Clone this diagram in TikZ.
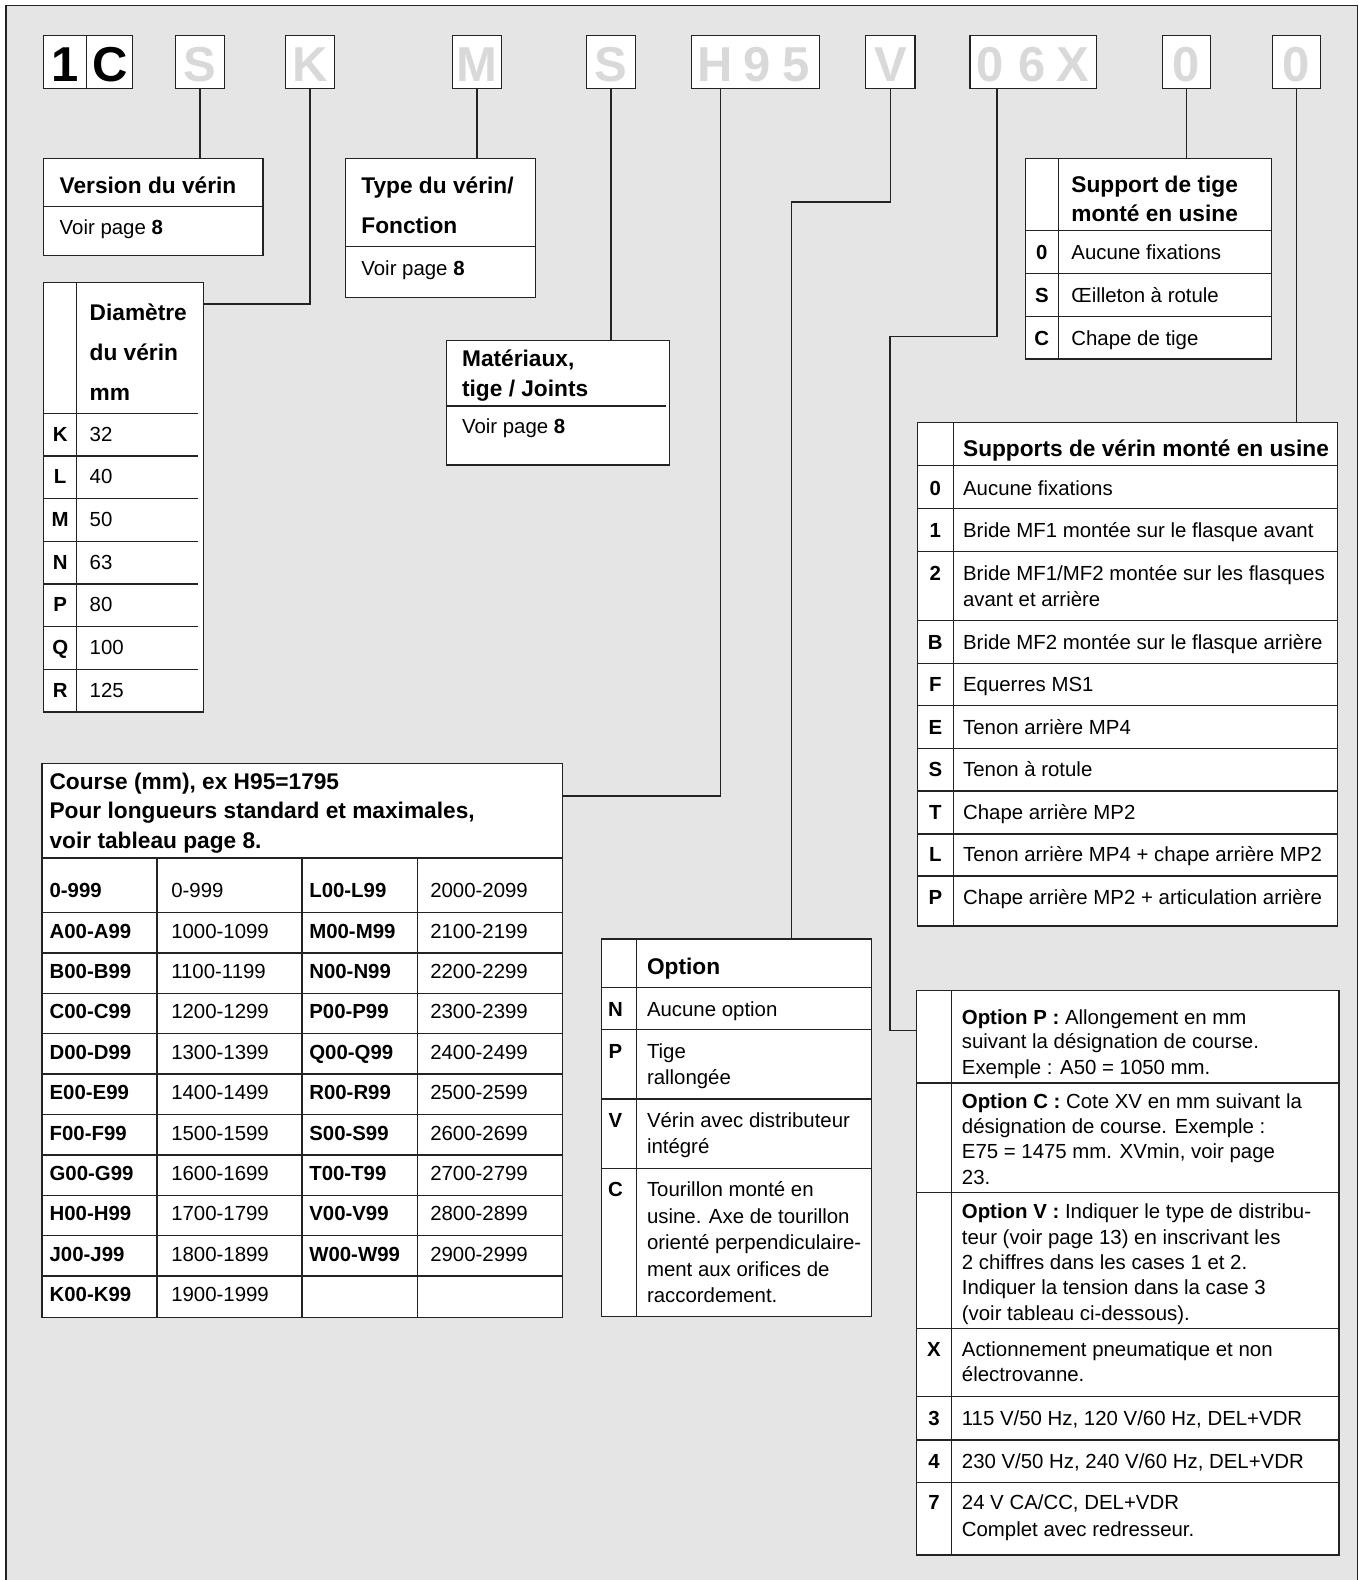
\documentclass[tikz,border=0pt]{standalone}
\usepackage{fontspec}
\setmainfont{Liberation Sans}
\usetikzlibrary{fit}
\definecolor{bggray}{RGB}{229,229,229}
\definecolor{codegray}{RGB}{217,217,217}
\definecolor{linecol}{RGB}{35,35,35}
\newcommand\bodyfs{\fontsize{10.2}{12}\selectfont}
\newcommand\headfs{\fontsize{11.35}{13}\selectfont\bfseries}
\newcommand\codefs{\fontsize{24.5}{26}\selectfont\bfseries}
\tikzset{
 tbox/.style={draw=linecol, fill=white, line width=0.75pt, inner sep=0pt},
 tline/.style={draw=linecol, line width=0.75pt},
 btxt/.style={anchor=base west, inner sep=0pt, font=\bodyfs},
 bbtxt/.style={anchor=base west, inner sep=0pt, font=\bodyfs\bfseries},
 htxt/.style={anchor=base west, inner sep=0pt, font=\headfs},
 ctxt/.style={anchor=base, inner sep=0pt, font=\bodyfs\bfseries},
 codebox/.style={draw=linecol, fill=white, line width=0.75pt, inner sep=0pt},
 codetxt/.style={anchor=base, inner sep=0pt, font=\codefs, text=codegray},
}
\begin{document}
\begin{tikzpicture}[x=0.5pt,y=-0.5pt]
\useasboundingbox (0,0) rectangle (1359,1580);
\clip (0,0) rectangle (1359,1580);
% frame
\fill[bggray] (6,5.7) rectangle (1357.3,1600);
\draw[tline] (6,1600) -- (6,5.7) -- (1357.3,5.7) -- (1357.3,1600);

% ---------- code boxes ----------
\node[codebox, fit={(43.7,35.7) (132.7,88.3)}] (c1) {};
\draw[tline] (86.7,35.7) -- (86.7,88.3);
\node[codetxt, text=black] (c1a) at (65.2,81.7) {1};
\node[codetxt, text=black] (c1b) at (109.7,81.7) {C};
\foreach \nm/\xa/\xb/\lt in {cS/175.7/224.3/S, cK/285.7/334.3/K, cM/452.7/501.7/M, cSb/586.7/635.3/S, cV/865.7/915/V, cZa/1162.3/1210.3/0, cZb/1272.3/1320.7/0}{
  \node[codebox, fit={(\xa,35.7) (\xb,88.3)}] (\nm) {};
  \node[codetxt] (\nm-t) at ({(\xa+\xb)/2},81.7) {\lt};
}
\node[codebox, fit={(691.7,35.7) (819.7,88.3)}] (cH) {};
\node[codetxt] (cH-t) at (754.1,81.7) {H\kern5.1pt 9\kern6.1pt 5};
\node[codebox, fit={(970,35.7) (1096.3,88.3)}] (cX) {};
\node[codetxt] (cX-t) at (1033,81.7) {0\kern7.2pt 6\kern5.8pt X};

% ---------- Version ----------
\node[tbox, fit={(43.7,158.3) (263,255.3)}] (ver) {};
\draw[tline] (43.7,206.3) -- (263,206.3);
\node[htxt] (verh) at (59.3,193) {Version du vérin};
\node[btxt] (verb) at (59.3,234) {Voir page \textbf{8}};

% ---------- Type ----------
\node[tbox, fit={(345.7,158.3) (535.7,297.3)}] (typ) {};
\draw[tline] (345.7,246.3) -- (535.7,246.3);
\node[htxt] (typh1) at (361,193) {Type du vérin/};
\node[htxt] (typh2) at (361,233) {Fonction};
\node[btxt] (typb) at (361,275) {Voir page \textbf{8}};

% ---------- Diametre ----------
\node[tbox, fit={(43.7,282.3) (203.3,712)}] (dia) {};
\draw[tline] (76.7,282.3) -- (76.7,712);
\foreach \yy in {413.3,456,498.7,541.3,584,626.7,669.3} \draw[tline] (43.7,\yy) -- (198.3,\yy);
\node[htxt] (diah1) at (89.3,320) {Diamètre};
\node[htxt] (diah2) at (89.3,360) {du vérin};
\node[htxt] (diah3) at (89.3,400) {mm};
\foreach \ka/\va [count=\i from 0] in {K/32,L/40,M/50,N/63,P/80,Q/100,R/125}{
  \node[ctxt] (dk\i) at (60.2,{441.3+42.67*\i}) {\ka};
  \node[btxt] (dv\i) at (89.3,{441.3+42.67*\i}) {\va};
}

% ---------- Materiaux ----------
\node[tbox, fit={(446.7,340.3) (669.7,465)}] (mat) {};
\draw[tline] (446.7,406) -- (666.3,406);
\node[htxt] (math1) at (461.7,366.7) {Matériaux,};
\node[htxt] (math2) at (461.7,396.7) {tige / Joints};
\node[btxt] (matb) at (461.7,433.3) {Voir page \textbf{8}};

% ---------- Support de tige ----------
\node[tbox, fit={(1025.3,158.7) (1271.3,359)}] (stg) {};
\draw[tline] (1058.3,158.7) -- (1058.3,359);
\foreach \yy in {230.7,273.7,316.3} \draw[tline] (1025.3,\yy) -- (1271.3,\yy);
\node[htxt] (stgh1) at (1071,192.7) {Support de tige};
\node[htxt] (stgh2) at (1071,221) {monté en usine};
\foreach \ka/\va/\yy [count=\i] in {0/Aucune fixations/259.3, S/Œilleton à rotule/302.3, C/Chape de tige/345}{
  \node[ctxt] (sk\i) at (1041.8,\yy) {\ka};
  \node[btxt] (sv\i) at (1071,\yy) {\va};
}

% ---------- Supports de verin ----------
\node[tbox, fit={(917.3,422.3) (1337.7,926)}] (svr) {};
\draw[tline] (953.3,422.3) -- (953.3,926);
\foreach \yy in {465.7,508.7,551.3,620.7,663.3,705.7,748.3,791,834,876} \draw[tline] (917.3,\yy) -- (1337.7,\yy);
\node[htxt] (svrh) at (962.7,456.7) {Supports de vérin monté en usine};
\foreach \ka/\va/\yy [count=\i] in {0/Aucune fixations/495, 1/Bride MF1 montée sur le flasque avant/537.7, B/Bride MF2 montée sur le flasque arrière/649.3, F/Equerres MS1/691.7, E/Tenon arrière MP4/734, S/Tenon à rotule/776.7, T/Chape arrière MP2/819.3, L/Tenon arrière MP4 + chape arrière MP2/861.7, P/Chape arrière MP2 + articulation arrière/904.3}{
  \node[ctxt] (vk\i) at (935.3,\yy) {\ka};
  \node[btxt] (vv\i) at (962.7,\yy) {\va};
}
\node[ctxt] (vk2b) at (935.3,580) {2};
\node[btxt] (vv2b) at (962.7,580) {Bride MF1/MF2 montée sur les flasques};
\node[btxt] (vv2c) at (962.7,606) {avant et arrière};

% ---------- Course ----------
\node[tbox, fit={(41.8,763.6) (562.3,1317.7)}] (course) {};
\draw[tline] (41.8,857.9) -- (562.3,857.9);
\foreach \xx in {157.2,301.9,417.3} \draw[tline] (\xx,857.9) -- (\xx,1317.7);
\foreach \yy in {912.5,952.9,993.3,1033.7,1074.1,1114.5,1154.9,1195.3,1235.7,1276.1} \draw[tline] (41.8,\yy) -- (562.3,\yy);
\node[htxt] (crh1) at (49.2,789.8) {Course (mm), ex H95=1795};
\node[htxt] (crh2) at (49.2,818.9) {Pour longueurs standard et maximales,};
\node[htxt] (crh3) at (49.2,848) {voir tableau page 8.};
\foreach \ca/\cb/\cc/\cd [count=\i from 0] in {0-999/0-999/L00-L99/2000-2099, A00-A99/1000-1099/M00-M99/2100-2199, B00-B99/1100-1199/N00-N99/2200-2299, C00-C99/1200-1299/P00-P99/2300-2399, D00-D99/1300-1399/Q00-Q99/2400-2499, E00-E99/1400-1499/R00-R99/2500-2599, F00-F99/1500-1599/S00-S99/2600-2699, G00-G99/1600-1699/T00-T99/2700-2799, H00-H99/1700-1799/V00-V99/2800-2899, J00-J99/1800-1899/W00-W99/2900-2999}{
  \node[bbtxt] (cra\i) at (49.2,{897.6+40.4*\i}) {\ca};
  \node[btxt] (crb\i) at (170.9,{897.6+40.4*\i}) {\cb};
  \node[bbtxt] (crc\i) at (308.9,{897.6+40.4*\i}) {\cc};
  \node[btxt] (crd\i) at (429.9,{897.6+40.4*\i}) {\cd};
}
\node[bbtxt] (craK) at (49.2,1301.6) {K00-K99};
\node[btxt] (crbK) at (170.9,1301.6) {1900-1999};

% ---------- Option ----------
\node[tbox, fit={(601.4,939) (871.6,1316.7)}] (opt) {};
\draw[tline] (636.6,939) -- (636.6,1316.7);
\foreach \yy in {987.5,1029.5,1099.1,1168.4} \draw[tline] (601.4,\yy) -- (871.6,\yy);
\node[htxt] (opth) at (646.6,974.5) {Option};
\node[ctxt] (ok1) at (615.5,1016) {N};
\node[btxt] (ov1) at (646.6,1016) {Aucune option};
\node[ctxt] (ok2) at (615.5,1058) {P};
\node[btxt] (ov2) at (646.6,1058) {Tige};
\node[btxt] (ov2b) at (646.6,1084.5) {rallongée};
\node[ctxt] (ok3) at (615.5,1127.3) {V};
\node[btxt] (ov3) at (646.6,1127.3) {Vérin avec distributeur};
\node[btxt] (ov3b) at (646.6,1153.7) {intégré};
\node[ctxt] (ok4) at (615.5,1196.5) {C};
\node[btxt] (ov4) at (646.6,1196.5) {Tourillon monté en};
\node[btxt] (ov4b) at (646.6,1223) {usine. Axe de tourillon};
\node[btxt] (ov4c) at (646.6,1249.5) {orienté perpendiculaire-};
\node[btxt] (ov4d) at (646.6,1276) {ment aux orifices de};
\node[btxt] (ov4e) at (646.6,1302.5) {raccordement.};

% ---------- Option P/C/V ----------
\node[tbox, fit={(916.3,990.5) (1339,1555)}] (optp) {};
\draw[tline] (951.6,990.5) -- (951.6,1555);
\foreach \yy in {1083,1192.5,1328.5,1396.7,1440,1482.3} \draw[tline] (916.3,\yy) -- (1339,\yy);
\node[btxt] (pp1) at (961.5,1024.4) {\textbf{Option P :} Allongement en mm};
\node[btxt] (pp2) at (961.5,1048.8) {suivant la désignation de course.};
\node[btxt] (pp3) at (961.5,1074.5) {Exemple : A50 = 1050 mm.};
\node[btxt] (pc1) at (961.5,1108) {\textbf{Option C :} Cote XV en mm suivant la};
\node[btxt] (pc2) at (961.5,1133.2) {désignation de course. Exemple :};
\node[btxt] (pc3) at (961.5,1158.8) {E75 = 1475 mm. XVmin, voir page};
\node[btxt] (pc4) at (961.5,1184.5) {23.};
\node[btxt] (pv1) at (961.5,1218) {\textbf{Option V :} Indiquer le type de distribu-};
\node[btxt] (pv2) at (961.5,1244.4) {teur (voir page 13) en inscrivant les};
\node[btxt] (pv3) at (961.5,1269) {2 chiffres dans les cases 1 et 2.};
\node[btxt] (pv4) at (961.5,1294.5) {Indiquer la tension dans la case 3};
\node[btxt] (pv5) at (961.5,1320) {(voir tableau ci-dessous).};
\node[ctxt] (pk1) at (934,1356.5) {X};
\node[btxt] (px1) at (961.5,1356.5) {Actionnement pneumatique et non};
\node[btxt] (px2) at (961.5,1381) {électrovanne.};
\node[ctxt] (pk2) at (934,1425) {3};
\node[btxt] (p3) at (961.5,1425) {115 V/50 Hz, 120 V/60 Hz, DEL+VDR};
\node[ctxt] (pk3) at (934,1468) {4};
\node[btxt] (p4) at (961.5,1468) {230 V/50 Hz, 240 V/60 Hz, DEL+VDR};
\node[ctxt] (pk4) at (934,1509.5) {7};
\node[btxt] (p7) at (961.5,1509.5) {24 V CA/CC, DEL+VDR};
\node[btxt] (p7b) at (961.5,1536) {Complet avec redresseur.};

% ---------- connectors ----------
\coordinate (kb) at (311.7,304);
\coordinate (hb) at (720.3,796);
\coordinate (vb) at (791.7,202);
\coordinate (xb1) at (997,336.7);
\coordinate (xb2) at (890,1030.3);
\draw[tline] (cS.south) -- (cS.south |- ver.north);
\draw[tline] (cK.south) |- (dia.east |- kb);
\draw[tline] (cM.south) -- (cM.south |- typ.north);
\draw[tline] (cSb.south) -- (cSb.south |- mat.north);
\draw[tline] (hb |- cH.south) -- (hb) -- (hb -| course.east);
\draw[tline] (cV.south) |- (vb) -- (vb |- opt.north);
\draw[tline] (xb1 |- cX.south) -- (xb1) -| (xb2) -- (xb2 -| optp.west);
\draw[tline] (cZa.south) -- (cZa.south |- stg.north);
\draw[tline] (cZb.south) -- (cZb.south |- svr.north);
\end{tikzpicture}
\end{document}
